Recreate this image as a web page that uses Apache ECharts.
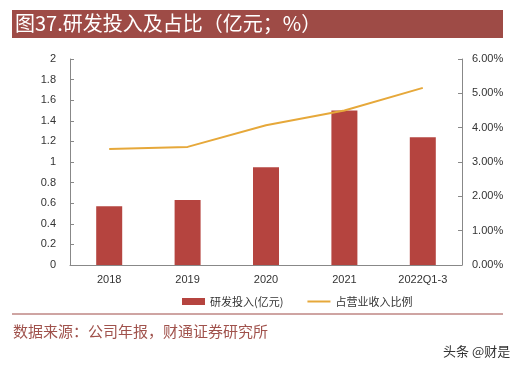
<!DOCTYPE html>
<html><head><meta charset="utf-8">
<script src="https://cdn.jsdelivr.net/npm/echarts@6/dist/echarts.min.js"></script>
<style>html,body{margin:0;padding:0;background:#fff}#c{width:531px;height:367px}</style>
</head><body><div id="c"></div>
<script>
const categories = ['2018','2019','2020','2021','2022Q1-3'];
const rdSpend = [0.57, 0.63, 0.95, 1.50, 1.24];
const rdRatio = [3.38, 3.44, 4.07, 4.50, 5.16];
const leftTicks = [0,0.2,0.4,0.6,0.8,1,1.2,1.4,1.6,1.8,2];
const rightTicks = [0,1,2,3,4,5,6];

const chart = echarts.init(document.getElementById('c'), null, {renderer:'canvas'});
const axisFont = {fontFamily:'Liberation Sans, Arial, sans-serif', fontSize:11, color:'#333'};
chart.setOption({
  animation:false,
  backgroundColor:'#fff',
  grid:{left:70, right:69, top:59, bottom:102},
  legend:{
    left:177, top:291, itemWidth:23, itemHeight:7, itemGap:23,
    textStyle:{fontFamily:'Noto Sans CJK SC, sans-serif', fontSize:11, color:'#333'},
    data:[{name:'研发投入(亿元)', icon:'rect'},{name:'占营业收入比例', itemStyle:{opacity:0}}]
  },
  xAxis:{
    type:'category', data:categories,
    axisLine:{lineStyle:{color:'#888'}},
    axisTick:{inside:true, length:4, lineStyle:{color:'#888'}},
    axisLabel:Object.assign({margin:9}, axisFont)
  },
  yAxis:[{
    type:'value', min:leftTicks[0], max:leftTicks[leftTicks.length-1], interval:0.2,
    axisLine:{show:true, lineStyle:{color:'#888'}},
    axisTick:{show:true, inside:true, length:4, lineStyle:{color:'#888'}},
    splitLine:{show:false},
    axisLabel:Object.assign({margin:14, formatter:v=>String(+v.toFixed(1))}, axisFont)
  },{
    type:'value', min:rightTicks[0], max:rightTicks[rightTicks.length-1], interval:1,
    axisLine:{show:true, lineStyle:{color:'#888'}},
    axisTick:{show:true, inside:true, length:4, lineStyle:{color:'#888'}},
    splitLine:{show:false},
    axisLabel:Object.assign({margin:10, formatter:v=>v.toFixed(2)+'%'}, axisFont)
  }],
  series:[{
    name:'研发投入(亿元)', type:'bar', data:rdSpend, barWidth:26,
    itemStyle:{color:'#B5443F'}
  },{
    name:'占营业收入比例', type:'line', yAxisIndex:1, data:rdRatio,
    symbol:'none', lineStyle:{color:'#E6A83A', width:2}, itemStyle:{color:'#E6A83A'}
  }],
  graphic:[
    {type:'rect', shape:{x:12, y:10, width:491, height:28}, style:{fill:'#9E4B46'}},
    {type:'text', left:15, top:13, style:{text:'图37.研发投入及占比（亿元；%）', fill:'#fff', font:'20px "Noto Sans CJK SC", sans-serif'}},
    {type:'line', shape:{x1:12, y1:314, x2:503, y2:314}, style:{stroke:'#9E4B46', lineWidth:1}},
    {type:'text', left:13, top:324, style:{text:'数据来源：公司年报，财通证券研究所', fill:'#A0524C', font:'15px "Noto Sans CJK SC", sans-serif'}},
    {type:'text', left:443, top:345, style:{text:'头条 @财是', fill:'#333', font:'13px "Noto Sans CJK SC", sans-serif'}}
  ]
});
</script></body></html>
